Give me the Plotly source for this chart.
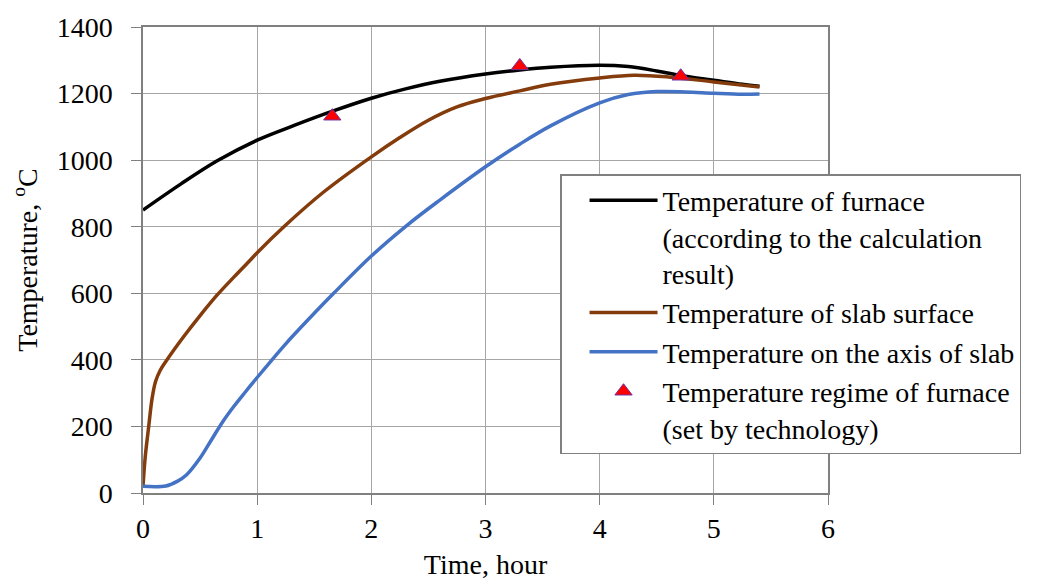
import plotly.graph_objects as go

# ---- data ----
furnace_t = [0, 0.33, 0.65, 1.0, 1.33, 1.66, 2.0, 2.3, 2.6, 3.0, 3.3, 3.57, 4.0,
             4.25, 4.5, 4.75, 5.0, 5.25, 5.4]
furnace_T = [850, 928, 998, 1060, 1105, 1147, 1186, 1214, 1237, 1259, 1271, 1279, 1285,
             1281, 1268, 1252, 1240, 1228, 1222]

surface_t = [0, 0.02, 0.05, 0.08, 0.11, 0.15, 0.2, 0.357, 0.5, 0.65, 0.8, 0.94, 1.0, 1.234,
             1.585, 2.0, 2.25, 2.5, 2.75, 3.0, 3.3, 3.57, 4.0, 4.3, 4.6, 5.0, 5.4]
surface_T = [20, 110, 200, 285, 335, 368, 395, 470, 533, 595, 650, 700, 722, 800,
             905, 1010, 1068, 1120, 1160, 1185, 1208, 1228, 1247, 1255, 1250, 1235, 1220]

axis_t = [0, 0.2, 0.3, 0.38, 0.5, 0.6, 0.7, 0.8, 0.9, 1.0, 1.117, 1.26, 1.5, 1.67, 2.0,
          2.315, 2.6, 3.0, 3.3, 3.57, 4.0, 4.25, 4.5, 4.75, 5.0, 5.25, 5.4]
axis_T = [20, 21, 35, 54, 105, 160, 215, 262, 305, 347, 395, 452, 540, 600, 712,
          805, 880, 980, 1048, 1103, 1172, 1197, 1206, 1205, 1201, 1198, 1199]

regime_t = [1.658, 3.30, 4.71]
regime_T = [1132, 1283, 1252]

x_ticks = [0, 1, 2, 3, 4, 5, 6]
y_ticks = [0, 200, 400, 600, 800, 1000, 1200, 1400]

names = [
    "Temperature of furnace<br>(according to the calculation<br>result)",
    "Temperature of slab surface",
    "Temperature on the axis of slab",
    "Temperature regime of furnace<br>(set by technology)",
]

FONT = "Liberation Serif, Times New Roman, serif"

fig = go.Figure()
fig.add_trace(go.Scatter(x=furnace_t, y=furnace_T, mode="lines", name=names[0],
                         line=dict(color="#000000", width=3.5, shape="spline", smoothing=1.0)))
fig.add_trace(go.Scatter(x=surface_t, y=surface_T, mode="lines", name=names[1],
                         line=dict(color="#843C0C", width=3.5, shape="spline", smoothing=1.0)))
fig.add_trace(go.Scatter(x=axis_t, y=axis_T, mode="lines", name=names[2],
                         line=dict(color="#4472C4", width=3.5, shape="spline", smoothing=1.0)))
fig.add_trace(go.Scatter(x=regime_t, y=regime_T, mode="markers", name=names[3],
                         marker=dict(symbol="triangle-up", size=15, color="#FF0000",
                                     line=dict(color="#7030A0", width=1))))

axis_common = dict(
    showgrid=True, gridcolor="#a6a6a6", gridwidth=1,
    showline=True, linecolor="#808080", linewidth=1.5, mirror=True,
    ticks="outside", ticklen=10, tickcolor="#808080", tickwidth=1,
    tickfont=dict(family=FONT, size=28, color="#000000"),
    zeroline=False,
)

fig.update_layout(
    width=1044, height=581,
    margin=dict(l=135, r=224, t=19, b=96, autoexpand=False),
    paper_bgcolor="white", plot_bgcolor="white",
    font=dict(family=FONT, size=28, color="#000000"),
    xaxis=dict(range=[0, 6], tickvals=x_ticks, ticktext=[str(v) for v in x_ticks],
               title=dict(text="Time, hour", font=dict(family=FONT, size=28), standoff=11),
               **axis_common),
    yaxis=dict(range=[0, 1400], tickvals=y_ticks, ticktext=[str(v) for v in y_ticks],
               ticklabelstandoff=13,
               title=dict(text="Temperature, <sup>o</sup>C", font=dict(family=FONT, size=28), standoff=12),
               **axis_common),
    legend=dict(x=0.6088, y=0.6845, xanchor="left", yanchor="top",
                bgcolor="white", bordercolor="#808080", borderwidth=1.5,
                font=dict(family=FONT, size=28, color="#000000"),
                valign="top", itemwidth=68, indentation=23, tracegroupgap=0),
    showlegend=True,
)

fig.write_html("out.html")
